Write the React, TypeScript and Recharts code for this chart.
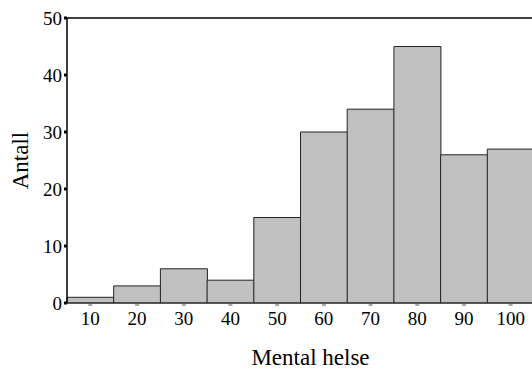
import { BarChart, Bar, XAxis, YAxis, ReferenceLine, Label } from 'recharts';

const bins = ['10', '20', '30', '40', '50', '60', '70', '80', '90', '100'];
const counts = [1, 3, 6, 4, 15, 30, 34, 45, 26, 27];
const yTicks = [0, 10, 20, 30, 40, 50];

const FONT = '"Liberation Serif", "Times New Roman", serif';

const data = bins.map((bin, i) => ({ bin, count: counts[i] }));

// small horizontal dash above each x label, like the original
function XTick(props: any) {
  const { x, y, payload } = props;
  return (
    <g>
      <line x1={x - 2} x2={x + 2} y1={y} y2={y} stroke="#555" strokeWidth={1} />
      <text x={x} y={y + 20} textAnchor="middle" fontSize={19} fontFamily={FONT} fill="#000">
        {payload.value}
      </text>
    </g>
  );
}

export default function App() {
  return (
    <div style={{ position: 'absolute', left: 0, top: 0, width: 532, height: 369, overflow: 'hidden', background: '#fff' }}>
      <BarChart
        width={545}
        height={369}
        data={data}
        margin={{ top: 18, right: 11, bottom: 0, left: 0 }}
        barCategoryGap={0}
      >
        <XAxis
          dataKey="bin"
          height={66}
          axisLine={{ stroke: '#222' }}
          tickLine={false}
          tickSize={0}
          tick={<XTick />}
          interval={0}
        >
          <Label
            content={({ viewBox }: any) => (
              <text
                x={viewBox.x + viewBox.width / 2 + 10}
                y={viewBox.y + 62}
                textAnchor="middle"
                fontSize={23}
                fontFamily={FONT}
                fill="#000"
              >
                Mental helse
              </text>
            )}
          />
        </XAxis>
        <YAxis
          width={67}
          domain={[0, 50]}
          ticks={yTicks}
          interval={0}
          axisLine={{ stroke: '#000', strokeWidth: 1.5 }}
          tickLine={{ stroke: '#000', strokeWidth: 3 }}
          tickSize={3}
          tick={{ fontSize: 19, fontFamily: FONT, fill: '#000' }}
        >
          <Label
            content={({ viewBox }: any) => {
              const cx = 20;
              const cy = viewBox.y + viewBox.height / 2;
              return (
                <text
                  x={cx}
                  y={cy}
                  transform={`rotate(-90 ${cx} ${cy})`}
                  textAnchor="middle"
                  dominantBaseline="central"
                  fontSize={23}
                  fontFamily={FONT}
                  fill="#000"
                >
                  Antall
                </text>
              );
            }}
          />
        </YAxis>
        <ReferenceLine y={50} stroke="#000" strokeWidth={1.5} />
        <Bar dataKey="count" fill="#c0c0c0" stroke="#222" strokeWidth={1} isAnimationActive={false} />
      </BarChart>
    </div>
  );
}
